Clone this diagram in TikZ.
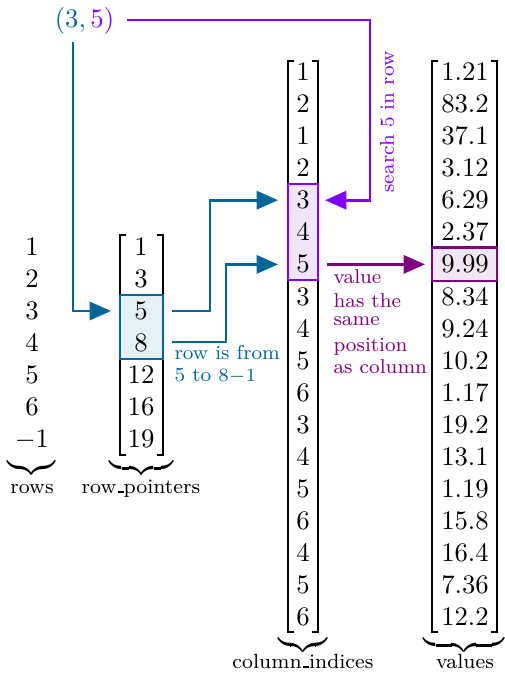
\documentclass[tikz,border=0pt]{standalone}
\usetikzlibrary{arrows.meta}
\definecolor{cblue}{HTML}{006699}
\definecolor{cpurp}{HTML}{8000FF}
\definecolor{cviol}{HTML}{800080}
\newcommand\usc{\leavevmode\kern.06em\vbox{\hrule height 0.7pt width.3em}}
\begin{document}
\begin{tikzpicture}[x=0.3743pt,y=-0.3743pt,
  entry/.style={inner sep=0pt,text height=6.44pt,text depth=0pt,anchor=center},
  brk/.style={line width=0.5pt,black},
  hbox/.style={line width=0.8pt},
  link/.style={line width=1pt,-{Triangle[length=8pt,width=6.8pt]}},
  lbl/.style={font=\fontsize{7.7}{9}\selectfont,inner sep=0pt,anchor=base},
  note/.style={font=\fontsize{7.5}{9}\selectfont,inner sep=0pt,anchor=base west},
  ubrace/.style={inner sep=0pt,anchor=north}
]
\useasboundingbox (0,0) rectangle (505,674);

% highlight fills
\fill[cblue!10] (120,295) rectangle (163,359);
\fill[cpurp!10] (288,184.2) rectangle (318,280.4);
\fill[cviol!10] (432,247.5) rectangle (497,281);

% rows
\foreach \t [count=\i] in {1,2,3,4,5,6,-1}
  \node[entry] (r\i) at (32,{247+31.9*(\i-1)}) {$\t$};
% row pointers
\foreach \t [count=\i] in {1,3,5,8,12,16,19}
  \node[entry] (rp\i) at (141,{247+31.9*(\i-1)}) {$\t$};
% column indices
\foreach \t [count=\i] in {1,2,1,2,3,4,5,3,4,5,6,3,4,5,6,4,5,6}
  \node[entry] (ci\i) at (303,{72+32.06*(\i-1)}) {$\t$};
% values
\foreach \t [count=\i] in {1.21,83.2,37.1,3.12,6.29,2.37,9.99,8.34,9.24,10.2,1.17,19.2,13.1,1.19,15.8,16.4,7.36,12.2}
  \node[entry] (v\i) at (465,{72+32.06*(\i-1)}) {$\t$};

% brackets
\draw[brk] (126,235) -- (120,235) -- (120,455) -- (126,455);
\draw[brk] (157,235) -- (163,235) -- (163,455) -- (157,455);
\draw[brk] (294,61) -- (288,61) -- (288,632) -- (294,632);
\draw[brk] (312,61) -- (318,61) -- (318,632) -- (312,632);
\draw[brk] (438,61) -- (432,61) -- (432,632) -- (438,632);
\draw[brk] (491,61) -- (497,61) -- (497,632) -- (491,632);

% highlight borders on top
\draw[hbox,cblue] (120,295) rectangle (163,359);
\draw[hbox,cpurp] (288,184.2) rectangle (318,280.4);
\draw[hbox,cviol] (432,247.5) rectangle (497,281);

% underbraces
\node[ubrace] (brows) at (31.5,458) {$\underbrace{\hspace{17.6pt}}$};
\node[ubrace] (brp) at (141.5,458) {$\underbrace{\hspace{23.6pt}}$};
\node[ubrace] (bci) at (303,635) {$\underbrace{\hspace{18.7pt}}$};
\node[ubrace] (bv) at (464,635) {$\underbrace{\hspace{30.3pt}}$};

% labels
\node[lbl] (lrows) at (32,493) {rows};
\node[lbl] (lrp) at (141,493) {row\usc pointers};
\node[lbl] (lci) at (303,668) {column\usc indices};
\node[lbl] (lv) at (465,668) {values};

% the pair
\node[inner sep=0pt] (pair) at (84.5,21) {$\color{cblue}(3,\color{cpurp}5)$};

% connectors
\coordinate (a1s) at (73,42);
\coordinate (a1e) at (111,311);
\draw[link,cblue] (a1s) |- (a1e);

\coordinate (a2s) at (172,311);
\coordinate (a2e) at (278,200.2);
\draw[link,cblue] (a2s) -- ++(38,0) |- (a2e);

\coordinate (a3s) at (172,342);
\coordinate (a3e) at (278,264.4);
\draw[link,cblue] (a3s) -- ++(54,0) |- (a3e);

\coordinate (s1) at (127,20);
\coordinate (s2) at (370,200.2);
\coordinate (s3) at (325,200.2);
\draw[link,cpurp] (s1) -| (s2) -- (s3);

\coordinate (c1) at (327,264.4);
\coordinate (c2) at (425,264.4);
\draw[link,cviol] (c1) -- (c2);

% notes
\node[font=\fontsize{7.5}{9}\selectfont,text=cpurp,rotate=90,inner sep=0pt] (srch) at (387,122) {search 5 in row};
\node[note,text=cblue] (n1) at (174,359) {row is from};
\node[note,text=cblue] (n2) at (174,381.5) {5 to $8{-}1$};
\node[note,text=cviol] (m1) at (333,284) {value};
\node[note,text=cviol] (m2) at (333,307.3) {has the};
\node[note,text=cviol] (m3) at (333,325.5) {same};
\node[note,text=cviol] (m4) at (333,352) {position};
\node[note,text=cviol] (m5) at (333,373.3) {as column};
\end{tikzpicture}
\end{document}
